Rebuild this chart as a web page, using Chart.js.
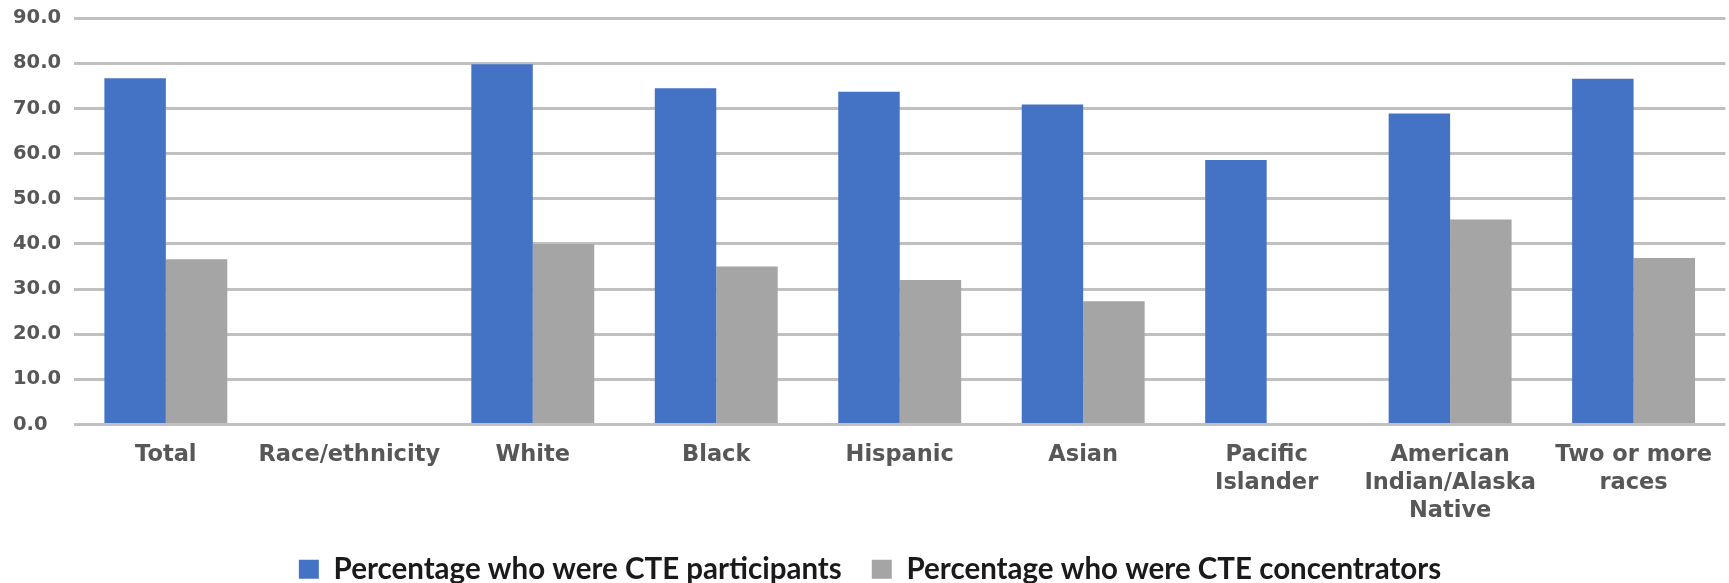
<!DOCTYPE html>
<html>
<head>
<meta charset="utf-8">
<script src="https://cdn.jsdelivr.net/npm/chart.js@4"></script>
<style>
  html, body { margin: 0; padding: 0; background: #fff; }
  #wrap { width: 1729px; height: 583px; position: relative; }
</style>
</head>
<body>
<div id="wrap"><canvas id="myChart"></canvas></div>
<script>
const categories = [
    'Total',
    'Race/ethnicity',
    'White',
    'Black',
    'Hispanic',
    'Asian',
    ['Pacific', 'Islander'],
    ['American', 'Indian/Alaska', 'Native'],
    ['Two or more', 'races']
];
const participants = [76.7, null, 79.8, 74.5, 73.7, 70.9, 58.6, 68.9, 76.6];
const concentrators = [36.6, null, 40.0, 35.0, 32.0, 27.3, null, 45.4, 36.9];
const yMin = 0;
const yMax = 90;
const yStep = 10;

const ctx = document.getElementById('myChart');

new Chart(ctx, {
    type: 'bar',
    data: {
        labels: categories,
        datasets: [
            {
                label: 'Percentage who were CTE participants',
                data: participants,
                backgroundColor: '#4472C4',
                borderWidth: 0
            },
            {
                label: 'Percentage who were CTE concentrators',
                data: concentrators,
                backgroundColor: '#A5A5A5',
                borderWidth: 0
            }
        ]
    },
    options: {
        responsive: true,
        maintainAspectRatio: false,
        animation: false,
        layout: {
            padding: { top: -2, left: 13, right: 2, bottom: -11 }
        },
        datasets: {
            bar: {
                categoryPercentage: 0.67,
                barPercentage: 1.0
            }
        },
        scales: {
            x: {
                grid: { display: false, drawTicks: false },
                border: { display: false },
                ticks: {
                    autoSkip: false,
                    maxRotation: 0,
                    padding: 17,
                    color: '#575757',
                    font: { family: 'DejaVu Sans', size: 22.5, weight: 'bold', lineHeight: 1.23 }
                },
                // labels only need padding above them, not below
                afterFit: function (scale) {
                    scale.height -= 17;
                }
            },
            y: {
                min: yMin,
                max: yMax,
                grid: {
                    color: '#c0c0c0',
                    lineWidth: 3,
                    drawTicks: false
                },
                border: { display: false },
                ticks: {
                    stepSize: yStep,
                    padding: 6.5,
                    crossAlign: 'far',
                    color: '#575757',
                    font: { family: 'DejaVu Sans', size: 19.5, weight: 'bold' },
                    callback: function (value) {
                        return value.toFixed(1);
                    }
                }
            }
        },
        plugins: {
            legend: {
                position: 'bottom',
                labels: {
                    boxWidth: 20,
                    boxHeight: 19,
                    padding: 30,
                    color: '#1a1a1a',
                    font: { family: 'Lato', size: 29.5, weight: 'bold' }
                }
            },
            tooltip: { enabled: false }
        }
    }
});
</script>
</body>
</html>
